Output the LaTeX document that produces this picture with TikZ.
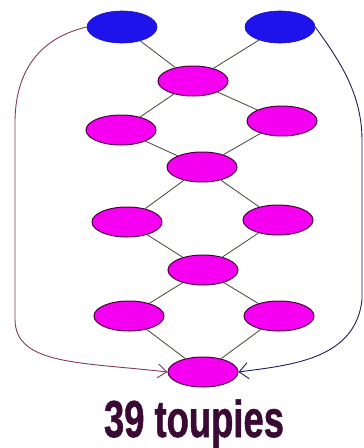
\documentclass[tikz,border=0pt]{standalone}
\usepackage{fontspec}
\setmainfont{Liberation Sans}
\newfontfamily\heavyfont[FakeBold=1.2]{Liberation Sans}
\usetikzlibrary{arrows.meta,shapes.geometric}
\definecolor{topblue}{RGB}{30,20,235}
\definecolor{topmag}{RGB}{245,0,240}
\definecolor{edgemag}{RGB}{70,0,60}
\definecolor{linkc}{RGB}{70,70,55}
\definecolor{leftc}{RGB}{130,60,80}
\definecolor{rightc}{RGB}{30,30,90}
\definecolor{txtc}{RGB}{58,10,52}
\begin{document}
\begin{tikzpicture}[x=1pt,y=-1pt,
  blueball/.style={ellipse,fill=topblue,draw=topblue!80!black,line width=0.6pt,minimum width=70pt,minimum height=32pt,inner sep=0pt},
  magball/.style={ellipse,fill=topmag,draw=edgemag,line width=1pt,minimum width=70pt,minimum height=30pt,inner sep=0pt},
  link/.style={draw=linkc,line width=0.8pt},
  loopl/.style={draw=leftc,line width=0.9pt,-{Straight Barb[length=9pt,width=14pt]}},
  loopr/.style={draw=rightc,line width=0.9pt,-{Straight Barb[length=9pt,width=16pt]}}]
\useasboundingbox (0,0) rectangle (364,448);
\fill[white] (0,0) rectangle (364,448);
\node[blueball] (b1) at (122,27) {};
\node[blueball] (b2) at (280,27) {};
\node[magball] (m1) at (193,81) {};
\node[magball] (m2l) at (121,130) {};
\node[magball] (m2r) at (282,121) {};
\node[magball] (m3) at (202,167) {};
\node[magball] (m4l) at (127,222) {};
\node[magball] (m4r) at (278,220) {};
\node[magball] (m5) at (203,270) {};
\node[magball] (m6l) at (129,316) {};
\node[magball] (m6r) at (279,316) {};
\node[magball] (m7) at (203,372) {};
\draw[link] (b1) -- (m1);
\draw[link] (b2) -- (m1);
\draw[link] (m1) -- (m2l);
\draw[link] (m1) -- (m2r);
\draw[link] (m2l) -- (m3);
\draw[link] (m2r) -- (m3);
\draw[link] (m3) -- (m4l);
\draw[link] (m3) -- (m4r);
\draw[link] (m4l) -- (m5);
\draw[link] (m4r) -- (m5);
\draw[link] (m5) -- (m6l);
\draw[link] (m5) -- (m6r);
\draw[link] (m6l) -- (m7);
\draw[link] (m6r) -- (m7);
\draw[loopl] (b1.west) .. controls (40,38) and (16,70) .. (15,120)
  -- (15,320) .. controls (16,365) and (80,362) .. (m7.west);
\draw[loopr] (b2.east) .. controls (335,55) and (362,90) .. (362,140)
  -- (362,300) .. controls (355,360) and (290,365) .. (m7.east);
\node[text=txtc,anchor=base,inner sep=0pt] (t) at (194,437) {\scalebox{0.7}[1]{\heavyfont\bfseries\fontsize{52}{52}\selectfont 39 toupies}};
\end{tikzpicture}
\end{document}
